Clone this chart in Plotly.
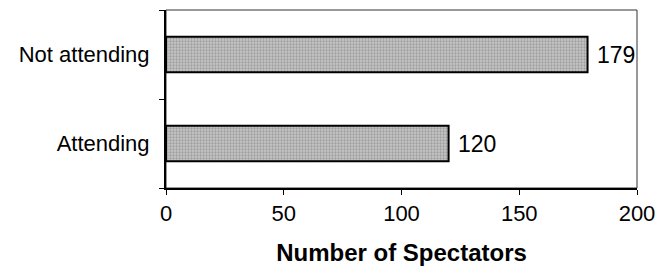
import plotly.graph_objects as go

categories = ["Attending", "Not attending"]
spectators = [120, 179]
x_ticks = [0, 50, 100, 150, 200]

FONT = "Liberation Sans, Arial, sans-serif"

fig = go.Figure()
fig.add_trace(go.Bar(
    y=categories,
    x=spectators,
    orientation="h",
    text=[" " + str(v) for v in spectators],
    textposition="outside",
    cliponaxis=False,
    textfont=dict(family=FONT, size=23, color="black"),
    marker=dict(
        color="#c0c0c0",
        line=dict(color="black", width=2),
        pattern=dict(shape=".", fgcolor="#767676", bgcolor="#c6c6c6", size=3, solidity=0.45),
    ),
    width=0.4,
))

# page body adds an 8px offset; margins compensate so the plot lands where the reference has it
fig.update_layout(
    width=659, height=264,
    margin=dict(l=158, r=30, t=2, b=84, autoexpand=False),
    paper_bgcolor="white", plot_bgcolor="white",
    showlegend=False,
    font=dict(family=FONT, size=22, color="black"),
    shapes=[dict(type="rect", xref="paper", yref="paper", x0=0, x1=1, y0=0, y1=1,
                 line=dict(color="#333", width=1), layer="below")],
)
fig.update_xaxes(
    range=[0, 200], tickvals=x_ticks, ticktext=[str(t) for t in x_ticks],
    showgrid=False, zeroline=False, automargin=False,
    showline=True, linecolor="black", linewidth=2,
    ticks="outside", ticklen=5, tickwidth=1, tickcolor="black",
    tickfont=dict(size=22),
    title=dict(text="<b>Number of Spectators</b>", font=dict(size=24), standoff=19),
)
fig.update_yaxes(
    showgrid=False, zeroline=False, automargin=False,
    showline=True, linecolor="black", linewidth=2,
    ticks="outside", ticklen=5, tickwidth=1, tickcolor="black",
    tickson="boundaries",
    tickfont=dict(size=22),
    ticklabelstandoff=10,
)

fig.write_html("out.html")
